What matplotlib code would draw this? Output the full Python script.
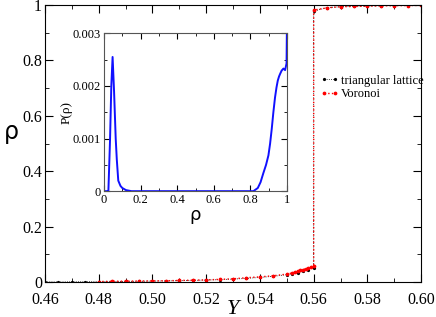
import numpy as np
import matplotlib.pyplot as plt
from matplotlib.ticker import MultipleLocator, FormatStrFormatter, FuncFormatter

plt.rcParams['font.family'] = ['Liberation Serif', 'DejaVu Serif']

# main panel: density rho versus Y
Y_tri = [0.46, 0.465, 0.47, 0.475, 0.48, 0.485, 0.49, 0.495, 0.50, 0.505,
         0.51, 0.515, 0.52, 0.525, 0.53, 0.535, 0.54, 0.545, 0.55, 0.552,
         0.554, 0.556, 0.558, 0.56, 0.56, 0.565, 0.57, 0.575, 0.58, 0.585,
         0.59, 0.595, 0.60]
rho_tri = [0.0005, 0.0007, 0.001, 0.0013, 0.0017, 0.002, 0.0025, 0.003, 0.0036, 0.0044,
           0.0053, 0.0063, 0.0075, 0.009, 0.011, 0.0135, 0.017, 0.021, 0.027, 0.030,
           0.034, 0.039, 0.045, 0.052, 0.978, 0.991, 0.994, 0.996, 0.997, 0.998,
           0.998, 0.999, 1.0]

Y_vor = [0.48, 0.485, 0.49, 0.495, 0.50, 0.505, 0.51, 0.515, 0.52, 0.525,
         0.53, 0.535, 0.54, 0.545, 0.55, 0.552, 0.553, 0.554, 0.555, 0.556,
         0.557, 0.558, 0.559, 0.56, 0.56, 0.565, 0.57, 0.575, 0.58, 0.585,
         0.59, 0.595, 0.60]
rho_vor = [0.002, 0.003, 0.0035, 0.004, 0.0045, 0.005, 0.006, 0.007, 0.008, 0.010,
           0.012, 0.016, 0.019, 0.023, 0.029, 0.033, 0.036, 0.039, 0.042, 0.045,
           0.048, 0.051, 0.055, 0.059, 0.982, 0.990, 0.994, 0.995, 0.996, 0.997,
           0.998, 0.998, 0.999]

# inset: distribution P(rho)
rho_p = [0.0, 0.02, 0.024, 0.033, 0.04, 0.047, 0.055, 0.064, 0.07, 0.078,
         0.09, 0.1, 0.12, 0.15, 0.2, 0.4, 0.6, 0.8, 0.816, 0.84,
         0.855, 0.87, 0.885, 0.898, 0.907, 0.916, 0.925, 0.934, 0.942, 0.949,
         0.956, 0.962, 0.97, 0.98, 0.989, 0.997, 1.0]
P_p = [0.0, 0.0, 0.0, 0.00097, 0.0020, 0.00255, 0.0019, 0.0010, 0.0006, 0.0002,
       0.0001, 0.00006, 0.00002, 0.0, 0.0, 0.0, 0.0, 0.0, 0.0, 0.00006,
       0.00017, 0.00034, 0.00050, 0.00068, 0.0009, 0.00118, 0.0015, 0.00178, 0.00197, 0.0021,
       0.00218, 0.00223, 0.00229, 0.00233, 0.0023, 0.00243, 0.0035]

fig = plt.figure(figsize=(4.36, 3.17), dpi=100)
ax = fig.add_axes([0.103, 0.110, 0.863, 0.874])

ax.plot(Y_tri, rho_tri, color='black', ls=':', lw=0.6, marker='o', ms=1.3,
        label='triangular lattice')
ax.plot(Y_vor, rho_vor, color='red', ls=':', lw=1.0, marker='o', ms=1.7,
        label='Voronoi')

ax.set_xlim(0.46, 0.60)
ax.set_ylim(0, 1)
ax.xaxis.set_major_locator(MultipleLocator(0.02))
ax.xaxis.set_minor_locator(MultipleLocator(0.01))
ax.yaxis.set_major_locator(MultipleLocator(0.2))
ax.yaxis.set_minor_locator(MultipleLocator(0.1))
ax.xaxis.set_major_formatter(FormatStrFormatter('%.2f'))
ax.yaxis.set_major_formatter(FuncFormatter(lambda v, p: '%g' % round(v, 3)))
ax.tick_params(which='both', direction='in', top=True, right=True, labelsize=11.5)
ax.tick_params(axis='y', pad=2)
ax.tick_params(axis='x', pad=7)
ax.tick_params(which='major', length=6)
ax.tick_params(which='minor', length=3)
ax.set_xlabel('Y', fontsize=16, style='italic', labelpad=-6)
ax.set_ylabel('ρ', fontsize=17, family='DejaVu Sans', rotation=0, labelpad=8)

ax.legend(loc='upper right', bbox_to_anchor=(1.03, 0.78), frameon=False,
          fontsize=9, handlelength=1.5, handletextpad=0.2, labelspacing=0.1,
          numpoints=2, borderaxespad=0.3)

# inset
ins = fig.add_axes([0.2385, 0.397, 0.420, 0.498])
ins.plot(rho_p, P_p, color='#1010ff', lw=1.4)
ins.set_xlim(0, 1)
ins.set_ylim(0, 0.003)
ins.xaxis.set_major_locator(MultipleLocator(0.2))
ins.xaxis.set_minor_locator(MultipleLocator(0.1))
ins.yaxis.set_major_locator(MultipleLocator(0.001))
ins.yaxis.set_minor_locator(MultipleLocator(0.0005))
ins.xaxis.set_major_formatter(FuncFormatter(lambda v, p: '%g' % round(v, 3)))
ins.yaxis.set_major_formatter(FuncFormatter(lambda v, p: '%g' % round(v, 4)))
ins.tick_params(which='both', direction='in', top=True, right=True, labelsize=9, pad=2)
ins.tick_params(which='major', length=4)
ins.tick_params(which='minor', length=2)
for s in ins.spines.values():
    s.set_color('#555555')
ins.set_xlabel('ρ', fontsize=13, family='DejaVu Sans', labelpad=0)
ins.set_ylabel('P(ρ)', fontsize=9.5, labelpad=0)

fig.savefig('out.png', dpi=100)
